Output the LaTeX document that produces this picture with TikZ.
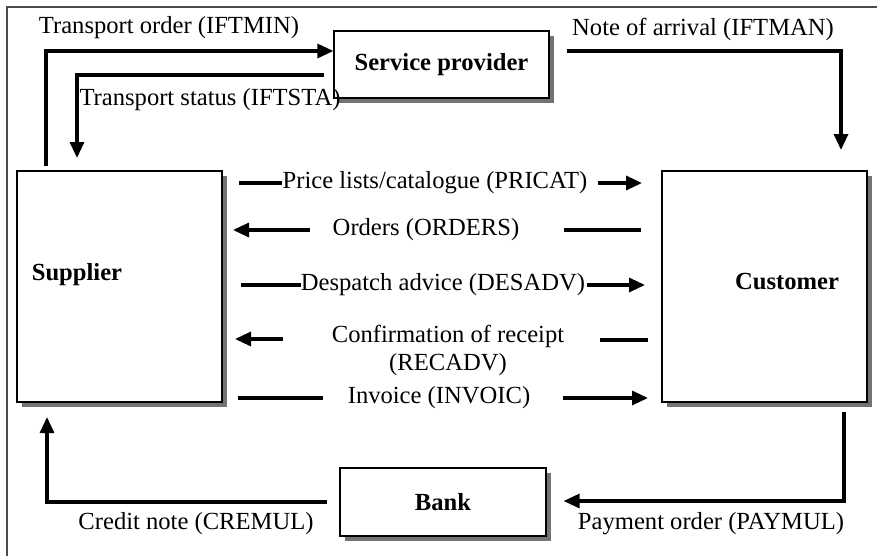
\documentclass[tikz,border=0pt]{standalone}
\usepackage{fontspec}
\setmainfont{Liberation Serif}
\usepackage{tikz}
\usetikzlibrary{arrows.meta,shadows,calc}

\tikzset{
  box/.style={draw, line width=0.6pt, fill=white, inner sep=0pt,
    drop shadow={shadow xshift=2.5pt, shadow yshift=-2.5pt, fill=black!55, opacity=1}},
  flow/.style={line width=1.6pt, -{Triangle[length=8pt,width=7pt]}},
  plain/.style={line width=1.6pt},
  msg/.style={font=\fontsize{12.3}{14}\selectfont, inner sep=0pt},
  title/.style={font=\fontsize{12.3}{14}\selectfont\bfseries, inner sep=0pt}
}

\begin{document}
\begin{tikzpicture}[x=0.5pt, y=-0.5pt]
    \useasboundingbox (0,0) rectangle (877,556);
    % outer frame
    \draw[black!70, line width=0.6pt] (7,7) rectangle (890,570);

    % the four parties
    \node[box, minimum width=107.5pt, minimum height=33.5pt] (provider) at (441.5,64.5) {};
    \node[title] (providername) at (provider) {Service provider};
    \node[box, minimum width=102.5pt, minimum height=115.5pt] (supplier) at (119.5,286.5) {};
    \node[title] (suppliername) at (77,275) {Supplier};
    \node[box, minimum width=102.5pt, minimum height=115.5pt] (customer) at (764.5,286.5) {};
    \node[title] (customername) at (787,282) {Customer};
    \node[box, minimum width=103pt, minimum height=34pt] (bank) at (443,502) {};
    \node[title] (bankname) at (bank) {Bank};

    % transport messages
    \coordinate (ordfoot) at (46,166);
    \draw[flow] (ordfoot) |- ($(provider.west)+(0,-13.5)$);
    \node[msg] (iftmin) at (169,28) {Transport order (IFTMIN)};
    \coordinate (stahead) at (77,158);
    \draw[flow] ($(provider.west)+(-9,10.5)$) -| (stahead);
    \node[msg] (iftsta) at (210,100) {Transport status (IFTSTA)};
    \coordinate (manhead) at (841,150);
    \draw[flow] ($(provider.east)+(17,-13.5)$) -| (manhead);
    \node[msg] (iftman) at (703,29) {Note of arrival (IFTMAN)};

    % trade messages between supplier and customer
    \node[msg] (pricat) at (435,183) {Price lists/catalogue (PRICAT)};
    \coordinate (pri1) at (239,183);
    \coordinate (pri2) at (598,183);
    \coordinate (pri3) at (642,183);
    \draw[plain] (pri1) -- (pricat.west);
    \draw[flow] (pri2) -- (pri3);

    \node[msg] (orders) at (426,230) {Orders (ORDERS)};
    \coordinate (ord1) at (233,230);
    \coordinate (ord2) at (310,230);
    \coordinate (ord3) at (564,230);
    \coordinate (ord4) at (641,230);
    \draw[flow] (ord2) -- (ord1);
    \draw[plain] (ord3) -- (ord4);

    \node[msg] (desadv) at (443,285) {Despatch advice (DESADV)};
    \coordinate (des1) at (241,285);
    \coordinate (des2) at (645,285);
    \draw[plain] (des1) -- (desadv.west);
    \draw[flow] ([xshift=1pt]desadv.east) -- (des2);

    \node[msg, align=center] (recadv) at (448,350) {Confirmation of receipt\\(RECADV)};
    \coordinate (rec1) at (235,339);
    \coordinate (rec2) at (283,339);
    \coordinate (rec3) at (600,340);
    \coordinate (rec4) at (648,340);
    \draw[flow] (rec2) -- (rec1);
    \draw[plain] (rec3) -- (rec4);

    \node[msg] (invoic) at (439,398) {Invoice (INVOIC)};
    \coordinate (inv1) at (238,398);
    \coordinate (inv2) at (323,398);
    \coordinate (inv3) at (563,398);
    \coordinate (inv4) at (648,398);
    \draw[plain] (inv1) -- (inv2);
    \draw[flow] (inv3) -- (inv4);

    % payment messages
    \coordinate (credhead) at (47,417);
    \draw[flow] ($(bank.west)+(-12,0)$) -| (credhead);
    \node[msg] (cremul) at (196,524) {Credit note (CREMUL)};
    \coordinate (payfoot) at (844,412);
    \draw[flow] (payfoot) |- ($(bank.east)+(17,-1)$);
    \node[msg] (paymul) at (711,524) {Payment order (PAYMUL)};
\end{tikzpicture}
\end{document}
